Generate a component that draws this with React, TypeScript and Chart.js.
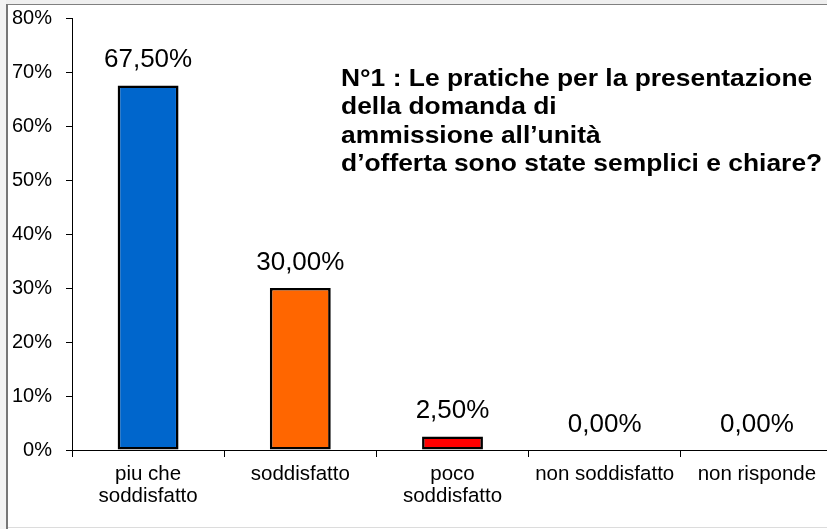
import React, { useEffect, useRef } from "react";
import { Chart, registerables } from "chart.js";

Chart.register(...registerables);

const categories: (string | string[])[] = [
  ["piu che", "soddisfatto"],
  "soddisfatto",
  ["poco", "soddisfatto"],
  "non soddisfatto",
  "non risponde",
];
const values: number[] = [67.5, 30.0, 2.5, 0.0, 0.0];
const barColors: string[] = ["#0066CC", "#FF6600", "#FF0000", "#FF0000", "#FF0000"];
const yTicks = { min: 0, max: 80, step: 10 };
const titleLines: string[] = [
  "N°1 : Le pratiche per la presentazione",
  "della domanda di",
  "ammissione all’unità",
  "d’offerta sono state semplici e chiare?",
];

const FONT = "'Liberation Sans', Arial, Helvetica, sans-serif";

const fmt = (v: number) => v.toFixed(2).replace(".", ",") + "%";

const labelPlugin = {
  id: "valueLabels",
  afterDatasetsDraw(chart: any) {
    const ctx = chart.ctx;
    const meta = chart.getDatasetMeta(0);
    ctx.save();
    ctx.fillStyle = "#000";
    ctx.font = `25px ${FONT}`;
    ctx.textAlign = "center";
    ctx.textBaseline = "alphabetic";
    meta.data.forEach((el: any, i: number) => {
      ctx.save();
      ctx.translate(el.x, el.y - 18.5);
      ctx.scale(1.04, 1);
      ctx.fillText(fmt(values[i]), 0, 0);
      ctx.restore();
    });
    ctx.restore();
  },
};

const titlePlugin = {
  id: "innerTitle",
  afterDraw(chart: any) {
    const ctx = chart.ctx;
    ctx.save();
    ctx.fillStyle = "#000";
    ctx.font = `bold 24px ${FONT}`;
    ctx.textAlign = "left";
    ctx.textBaseline = "alphabetic";
    const x0 = 341;
    const y0 = 86;
    const lh = 28.3;
    titleLines.forEach((t, i) => {
      ctx.save();
      ctx.translate(x0, y0 + i * lh);
      ctx.scale(1.1, 1);
      ctx.fillText(t, 0, 0);
      ctx.restore();
    });
    ctx.restore();
  },
};

export default function App() {
  const ref = useRef<HTMLCanvasElement | null>(null);

  useEffect(() => {
    document.body.style.margin = "0";
    document.body.style.background = "#fff";
    if (!ref.current) return;
    const chart = new Chart(ref.current, {
      type: "bar",
      data: {
        labels: categories,
        datasets: [
          {
            data: values,
            backgroundColor: barColors,
            borderColor: "#000",
            borderWidth: values.map((v) => (v === 0 ? 0 : 2.6)),
            borderSkipped: false,
            barPercentage: 0.4,
            categoryPercentage: 1,
          },
        ],
      },
      options: {
        responsive: false,
        animation: false,
        devicePixelRatio: 1,
        layout: { padding: { left: 0, right: 7, top: 18, bottom: 0 } },
        plugins: {
          legend: { display: false },
          tooltip: { enabled: false },
          title: { display: false },
        },
        scales: {
          x: {
            grid: {
              display: true,
              offset: true,
              drawOnChartArea: false,
              drawTicks: true,
              tickLength: 7,
              color: "#000",
            },
            border: { display: true, color: "#000", width: 1 },
            ticks: {
              color: "#000",
              font: { family: FONT, size: 20.5, lineHeight: 1.1 },
              padding: 6,
              maxRotation: 0,
              autoSkip: false,
            },
            afterFit: (s: any) => {
              s.height = 79;
              s.paddingLeft = 0;
              s.paddingRight = 0;
            },
          },
          y: {
            min: yTicks.min,
            max: yTicks.max,
            grid: {
              display: true,
              drawOnChartArea: false,
              drawTicks: true,
              tickLength: 6,
              color: "#000",
            },
            border: { display: true, color: "#000", width: 1 },
            ticks: {
              stepSize: yTicks.step,
              color: "#000",
              font: { family: FONT, size: 20 },
              padding: 14,
              callback: (v: any) => v + "%",
            },
            afterFit: (s: any) => {
              s.width = 72;
              s.paddingTop = 0;
              s.paddingBottom = 0;
            },
          },
        },
      },
      plugins: [labelPlugin, titlePlugin],
    });
    return () => chart.destroy();
  }, []);

  return (
    <div style={{ position: "relative", width: 827, height: 529, overflow: "hidden", background: "#fff" }}>
      <canvas ref={ref} width={840} height={529} style={{ position: "absolute", left: 0, top: 0, width: 840, height: 529 }} />
      <div style={{ position: "absolute", left: 0, top: 0, width: 827, height: 4, background: "#efefef", pointerEvents: "none" }} />
      <div style={{ position: "absolute", left: 0, top: 0, width: 6, height: 529, background: "#f3f3f3", pointerEvents: "none" }} />
      <div style={{ position: "absolute", left: 7, top: 4, width: 820, height: 1, background: "#808080", pointerEvents: "none" }} />
      <div style={{ position: "absolute", left: 6, top: 4, width: 2, height: 525, background: "#777", pointerEvents: "none" }} />
      <div style={{ position: "absolute", left: 8, top: 527, width: 819, height: 1, background: "#dcdcdc", pointerEvents: "none" }} />
    </div>
  );
}
